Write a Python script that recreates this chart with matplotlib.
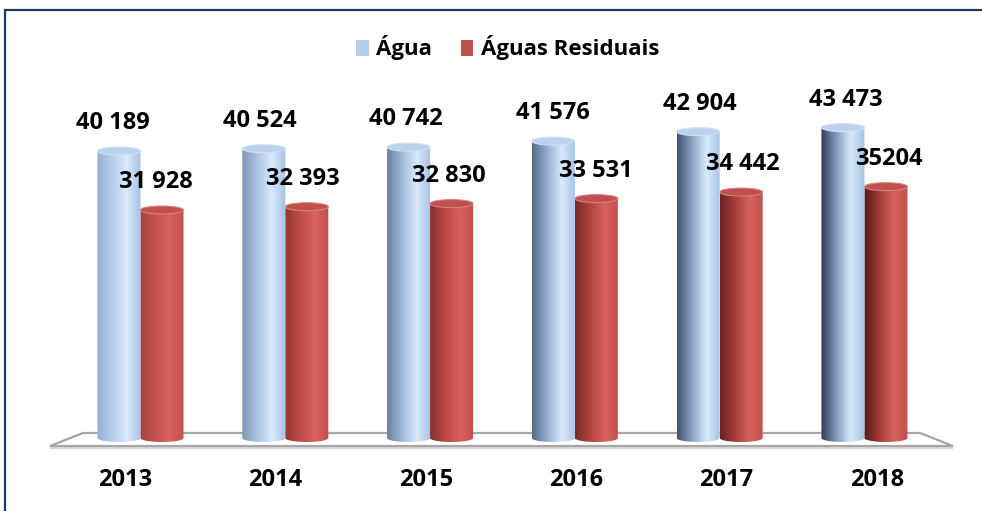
import numpy as np
import matplotlib.pyplot as plt
from matplotlib.patches import Ellipse, Polygon, PathPatch, Rectangle, Patch
from matplotlib.path import Path
from matplotlib.colors import LinearSegmentedColormap, to_rgb

plt.rcParams['font.family'] = ['Open Sans', 'DejaVu Sans']

years = ['2013', '2014', '2015', '2016', '2017', '2018']
agua = [40189, 40524, 40742, 41576, 42904, 43473]
residuais = [31928, 32393, 32830, 33531, 34442, 35204]
agua_labels = ['40 189', '40 524', '40 742', '41 576', '42 904', '43 473']
residuais_labels = ['31 928', '32 393', '32 830', '33 531', '34 442', '35204']

W, H = 982, 511
fig = plt.figure(figsize=(W / 100, H / 100), dpi=100)
ax = fig.add_axes([40 / W, 51 / H, 930 / W, 380 / H])
xmin, xmax = -0.694, 5.729
ymin, ymax = -3080, 50140
ax.set_xlim(xmin, xmax)
ax.set_ylim(ymin, ymax)
ax.axis('off')

# data units per pixel
dx = (xmax - xmin) / 930
dy = (ymax - ymin) / 380
PT = 72 / 100  # points per pixel


def mix(c1, c2, f):
    a, b = np.array(to_rgb(c1)), np.array(to_rgb(c2))
    return tuple(a + (b - a) * f)


def cylinder(xc, w, h, stops, cap, z):
    ry = 4 * dy
    x0, x1 = xc - w / 2, xc + w / 2
    t = np.linspace(np.pi, 2 * np.pi, 40)
    bottom = np.column_stack([xc + w / 2 * np.cos(t), ry * np.sin(t)])
    verts = np.vstack([[x0, h], bottom, [x1, h], [x0, h]])
    codes = [Path.MOVETO] + [Path.LINETO] * (len(verts) - 2) + [Path.CLOSEPOLY]
    clip = PathPatch(Path(verts, codes), transform=ax.transData, facecolor='none', edgecolor='none')
    ax.add_patch(clip)
    cmap = LinearSegmentedColormap.from_list('g', stops)
    grad = cmap(np.linspace(0, 1, 256))[None, :, :3]
    im = ax.imshow(grad, extent=[x0, x1, -ry, h], aspect='auto', interpolation='bicubic', zorder=z)
    im.set_clip_path(clip)
    ax.add_patch(Ellipse((xc, h), w, 2 * ry, facecolor=cap, edgecolor=mix(cap, '#ffffff', 0.3),
                         linewidth=0.8, zorder=z + 0.1))


# floor
back_y, front_y = 5 * dy, -8 * dy
floor = [(xmin + 43 * dx, back_y), (xmin + 880 * dx, back_y),
         (xmin + 913 * dx, front_y), (xmin + 10 * dx, front_y)]
shadow = [(x, y - 2 * dy) for x, y in floor]
ax.add_patch(Polygon(shadow, closed=True, facecolor='none', edgecolor='#d9d9d9', linewidth=1.6, zorder=1, clip_on=False))
ax.add_patch(Polygon(floor, closed=True, facecolor='white', edgecolor='#a6a6a6', linewidth=1.6, zorder=1.2, clip_on=False))

bw = 0.297
txt = dict(ha='center', va='center', fontsize=17, fontweight='bold', textcoords='offset points')
for i in range(len(years)):
    f = i / (len(years) - 1)
    blue_stops = [(0, mix('#93aed0', '#2c3b56', f)), (0.35, mix('#b7cfea', '#8199bc', f)),
                  (0.68, '#d9ebfd'), (1.0, '#a3c0e3')]
    red_stops = [(0, mix('#a2403c', '#5a1818', f)), (0.35, mix('#c4524e', '#a33a37', f)),
                 (0.68, '#d9625d'), (1.0, '#c0504d')]
    cylinder(i + bw / 2, bw, residuais[i], red_stops, '#c24f4b', 2)
    cylinder(i - bw / 2, bw, agua[i], blue_stops, '#bcd2ec', 3)

    # slight perspective shift of labels
    shift = (-6 + 1.8 * i) * PT
    ax.annotate(agua_labels[i], (i - bw / 2, agua[i]), xytext=(shift, 20), zorder=5, **txt)
    ax.annotate(residuais_labels[i], (i + bw / 2, residuais[i]), xytext=(shift, 20), zorder=5, **txt)
    ax.annotate(years[i], (i, 0), xytext=((-15.5 + 5.6 * i) * PT, -30), annotation_clip=False, **txt)

handles = [Patch(facecolor='#b3cceb', edgecolor='none', label='Água'),
           Patch(facecolor='#c0504d', edgecolor='none', label='Águas Residuais')]
fig.legend(handles=handles, loc='center', bbox_to_anchor=(508 / W, 1 - 48 / H), ncol=2, frameon=False,
           prop={'size': 16, 'weight': 'bold'}, handlelength=0.55, handleheight=0.75,
           handletextpad=0.35, columnspacing=1.3)

fig.add_artist(Rectangle((5 / W, -0.05), 1.2, 1.05 - 10 / H, transform=fig.transFigure,
                         facecolor='none', edgecolor='#1f3a60', linewidth=1.6))

fig.savefig('out.png', dpi=100)
